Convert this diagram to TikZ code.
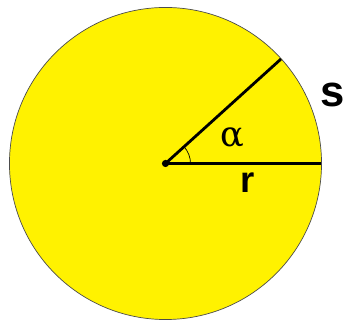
\documentclass[tikz,border=0pt]{standalone}
\usepackage{fontspec}
\setsansfont{Liberation Sans}
\newfontfamily\greekfont{DejaVu Serif}
\usetikzlibrary{positioning}
\tikzset{
  disc/.style={draw=black!70, line width=0.5pt, fill=yellow},
  spoke/.style={line width=2pt, line cap=butt},
  anglearc/.style={line width=0.5pt},
  biglabel/.style={font=\sffamily\bfseries, inner sep=0pt}
}

\begin{document}
\begin{tikzpicture}[x=0.025cm, y=-0.025cm]
  \useasboundingbox (0,0) rectangle (345,320);
  \coordinate (O) at (165.5,163.5);
  \coordinate (A) at (321.5,163.5);
  \coordinate (B) at (281,59);
  \draw[disc] (O) circle[radius=3.9cm];
  \draw[spoke] (O) -- (A);
  \draw[spoke] (O) -- (B);
  \fill (O) circle[radius=0.09cm];
  \draw[anglearc] ([xshift=0.625cm]O) arc[start angle=0, end angle=42.3, radius=0.625cm];
  \node[inner sep=0pt, font=\greekfont\fontsize{25}{25}\selectfont] (alpha) at (232,138) {α};
  \node[biglabel, font=\sffamily\bfseries\fontsize{26}{26}\selectfont] (rlab) at (248,183) {r};
  \node[biglabel, font=\sffamily\bfseries\fontsize{31}{31}\selectfont] (slab) at (333,95) {s};
\end{tikzpicture}
\end{document}
